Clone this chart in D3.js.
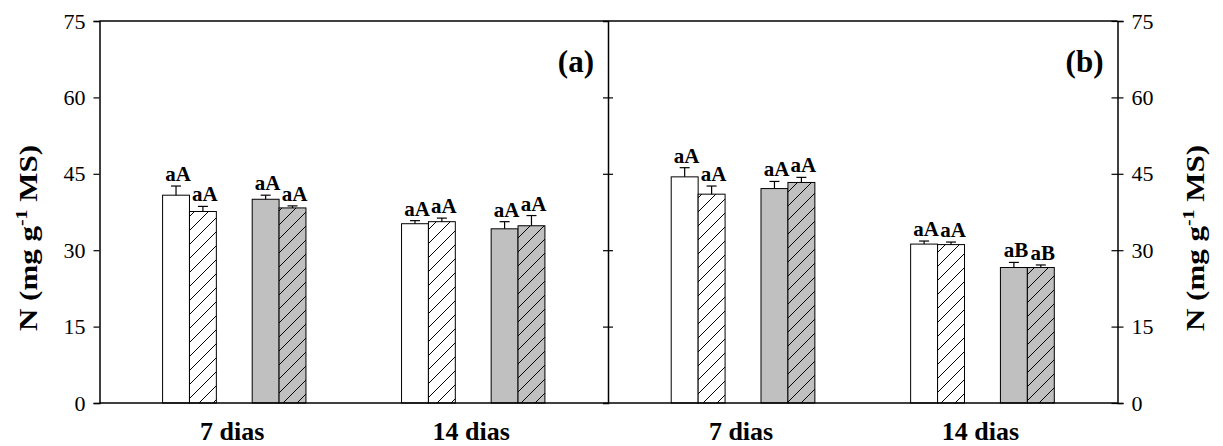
<!DOCTYPE html>
<html>
<head>
<meta charset="utf-8">
<script src="https://cdn.jsdelivr.net/npm/d3@7"></script>
<style>
  html, body { margin: 0; padding: 0; background: #fff; }
  svg { display: block; }
  text { font-family: "Liberation Serif", "Times New Roman", serif; fill: #000; }
</style>
</head>
<body>
<svg id="chart" width="1223" height="446"></svg>
<script>
// Sampling days (x categories)
const days = ["7 dias", "14 dias"];
// Treatments, drawn left to right inside each day group
const series = ["white", "hatched", "gray", "grayHatched"];
const yTicks = [0, 15, 30, 45, 60, 75];

// Panel (a): N content (mg g-1 MS) per treatment, one value per day
const aWhite = [40.8, 35.2];
const aHatched = [37.6, 35.6];
const aGray = [40.0, 34.2];
const aGrayHatched = [38.3, 34.8];
// Panel (a): standard errors
const aWhiteErr = [1.8, 0.6];
const aHatchedErr = [1.0, 0.7];
const aGrayErr = [0.8, 1.4];
const aGrayHatchedErr = [0.4, 2.0];
// Panel (a): mean comparison letters
const aLetters = [["aA", "aA", "aA", "aA"], ["aA", "aA", "aA", "aA"]];

// Panel (b)
const bWhite = [44.4, 31.2];
const bHatched = [41.0, 31.1];
const bGray = [42.1, 26.6];
const bGrayHatched = [43.3, 26.6];
const bWhiteErr = [1.8, 0.6];
const bHatchedErr = [1.6, 0.5];
const bGrayErr = [1.4, 1.0];
const bGrayHatchedErr = [1.0, 0.5];
const bLetters = [["aA", "aA", "aA", "aA"], ["aA", "aA", "aB", "aB"]];

const panels = [
  { tag: "(a)", values: [aWhite, aHatched, aGray, aGrayHatched],
    errors: [aWhiteErr, aHatchedErr, aGrayErr, aGrayHatchedErr], letters: aLetters },
  { tag: "(b)", values: [bWhite, bHatched, bGray, bGrayHatched],
    errors: [bWhiteErr, bHatchedErr, bGrayErr, bGrayHatchedErr], letters: bLetters }
];

const svg = d3.select("#chart");
const plotLeft = 99.5, plotMid = 608, plotRight = 1117.5;
const plotTop = 21, plotBottom = 403;

const y = d3.scaleLinear().domain([0, 75]).range([plotBottom, plotTop]);

// Diagonal hatch pattern
const defs = svg.append("defs");
function hatch(id, bg) {
  const p = defs.append("pattern").attr("id", id)
    .attr("patternUnits", "userSpaceOnUse").attr("width", 14).attr("height", 14);
  p.append("rect").attr("width", 14).attr("height", 14).attr("fill", bg);
  p.append("path").attr("d", "M0,14 L14,0 M-3.5,3.5 L3.5,-3.5 M10.5,17.5 L17.5,10.5")
    .attr("stroke", "#000").attr("stroke-width", 1);
}
hatch("hatchWhite", "#fff");
hatch("hatchGray", "#c0c0c0");
const fills = { white: "#fff", hatched: "url(#hatchWhite)", gray: "#c0c0c0", grayHatched: "url(#hatchGray)" };

const ranges = [[plotLeft, plotMid], [plotMid, plotRight]];

panels.forEach((panel, pi) => {
  const [x0, x1] = ranges[pi];
  const x = d3.scalePoint().domain(days).range([x0, x1]).padding(0.564);
  const step = x.step();
  const barW = step * 0.1125;
  const gapW = step * 0.15;
  const barLeft = (day, si) => x(day) - 2 * barW - gapW / 2 + si * barW + (si >= 2 ? gapW : 0);

  const g = svg.append("g");
  series.forEach((s, si) => {
    days.forEach((day, di) => {
      const v = panel.values[si][di];
      const e = panel.errors[si][di];
      const bx = barLeft(day, si);
      const cx = bx + barW / 2;
      g.append("rect")
        .attr("x", bx).attr("y", y(v))
        .attr("width", barW).attr("height", y(0) - y(v))
        .attr("fill", fills[s]).attr("stroke", "#000").attr("stroke-width", 1);
      // upper error bar with cap
      g.append("line").attr("x1", cx).attr("x2", cx).attr("y1", y(v)).attr("y2", y(v + e))
        .attr("stroke", "#000").attr("stroke-width", 1.2);
      g.append("line").attr("x1", cx - 5).attr("x2", cx + 5).attr("y1", y(v + e)).attr("y2", y(v + e))
        .attr("stroke", "#000").attr("stroke-width", 1.2);
      g.append("text")
        .attr("x", cx + 2).attr("y", y(v + e) - 5)
        .attr("text-anchor", "middle")
        .attr("font-size", 21).attr("font-weight", "bold")
        .text(panel.letters[di][si]);
    });
  });

  // day labels
  days.forEach(day => {
    svg.append("text").attr("x", x(day) - 2).attr("y", 440)
      .attr("text-anchor", "middle").attr("font-size", 26).attr("font-weight", "bold")
      .text(day);
  });

  // panel tag
  svg.append("text").attr("x", x1 - 14).attr("y", 72)
    .attr("text-anchor", "end").attr("font-size", 31).attr("font-weight", "bold")
    .text(panel.tag);
});

// Frame: top and bottom lines
svg.append("line").attr("x1", plotLeft).attr("x2", plotRight).attr("y1", plotTop).attr("y2", plotTop)
  .attr("stroke", "#000").attr("stroke-width", 1.5);
svg.append("line").attr("x1", plotLeft).attr("x2", plotRight).attr("y1", plotBottom).attr("y2", plotBottom)
  .attr("stroke", "#000").attr("stroke-width", 1.5);

// Left axis (ticks outward)
const leftAxis = svg.append("g").attr("transform", `translate(${plotLeft},0)`)
  .call(d3.axisLeft(y).tickValues(yTicks).tickSize(6).tickPadding(8));
// Middle divider with ticks on both sides
const midAxis = svg.append("g").attr("transform", `translate(${plotMid},0)`)
  .call(d3.axisLeft(y).tickValues(yTicks).tickSize(5).tickFormat(""));
midAxis.selectAll(".tick line").attr("x1", 5).attr("x2", -5);
// Right axis with ticks crossing
const rightAxis = svg.append("g").attr("transform", `translate(${plotRight},0)`)
  .call(d3.axisRight(y).tickValues(yTicks).tickSize(6).tickPadding(8));
rightAxis.selectAll(".tick line").attr("x1", -6).attr("x2", 6);

[leftAxis, midAxis, rightAxis].forEach(a => {
  a.select(".domain").attr("stroke", "#000").attr("stroke-width", 1.5);
  a.selectAll(".tick line").attr("stroke", "#000").attr("stroke-width", 1.2);
  a.selectAll(".tick text").attr("font-size", 22).attr("font-family", "Liberation Serif").attr("fill", "#000");
});
// the frame already marks 0 and 75 on the middle divider
midAxis.selectAll(".tick").filter(d => d === 0 || d === 75).remove();

// Y axis titles (set slightly elongated along the reading direction)
function yTitle(cx) {
  const t = svg.append("text")
    .attr("transform", `translate(${cx},238) rotate(-90) scale(1.24,1)`)
    .attr("text-anchor", "middle").attr("font-size", 25).attr("font-weight", "bold");
  t.append("tspan").text("N (mg g");
  t.append("tspan").attr("font-size", 16).attr("dy", -10).text("-1");
  t.append("tspan").attr("dy", 10).text(" MS)");
}
yTitle(37);
yTitle(1204);
</script>
</body>
</html>
